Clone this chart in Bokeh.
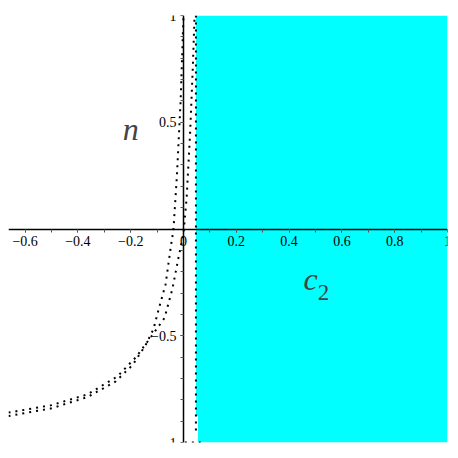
from bokeh.plotting import figure
from bokeh.models import FixedTicker, Label, Range1d
from bokeh.embed import file_html
from bokeh.resources import INLINE

# ---- data ----
c2_left = [-0.663, -0.5, -0.364, -0.258, -0.193, -0.144, -0.114, -0.095, -0.068, -0.05, -0.038, -0.025, -0.011, 0.0]
n_left = [-0.876, -0.84, -0.787, -0.715, -0.637, -0.545, -0.47, -0.38, -0.26, -0.1, 0.0, 0.25, 0.6, 1.0]

c2_right = [-0.663, -0.5, -0.364, -0.25, -0.18, -0.12, -0.072, -0.042, -0.02, 0.0, 0.012, 0.025, 0.035, 0.042]
n_right = [-0.86, -0.825, -0.775, -0.69, -0.6, -0.5, -0.417, -0.28, -0.14, -0.02, 0.15, 0.45, 0.75, 1.0]

region_c2 = [0.047, 1.0, 1.0, 0.055, 0.055, 0.047]
region_n = [1.0, 1.0, -1.0, -1.0, -0.876, -0.876]

edge_c2 = [0.047, 0.047]
edge_n = [1.0, -0.95]
bottom_c2 = [0.005, 0.065]
bottom_n = [-1.0, -1.0]

x_ticks = [-0.6, -0.4, -0.2, 0, 0.2, 0.4, 0.6, 0.8, 1]
x_minor = [-0.6, -0.5, -0.4, -0.3, -0.2, -0.1, 0, 0.1, 0.2, 0.3, 0.4, 0.5, 0.6, 0.7, 0.8, 0.9, 1.0]
y_ticks = [-1, -0.5, 0.5, 1]
y_minor = [-1, -0.9, -0.8, -0.7, -0.6, -0.5, -0.4, -0.3, -0.2, -0.1, 0.1, 0.2, 0.3, 0.4, 0.5, 0.6, 0.7, 0.8, 0.9, 1.0]

SERIF = "Liberation Serif"

p = figure(width=458, height=458, x_range=Range1d(-0.663, 1.0), y_range=Range1d(-1, 1),
           output_backend="svg", toolbar_location=None,
           min_border_left=8, min_border_right=11, min_border_top=15, min_border_bottom=16)
p.outline_line_color = None
p.grid.visible = False

p.patch(region_c2, region_n, fill_color="#00FFFF", line_color=None)

dots = dict(line_color="black", line_width=2, line_dash="2 5")
p.line(c2_left, n_left, **dots)
p.line(c2_right, n_right, **dots)
p.line(edge_c2, edge_n, **dots)
p.line(bottom_c2, bottom_n, **dots)

for ax in (p.xaxis[0], p.yaxis[0]):
    ax.fixed_location = 0
    ax.axis_line_color = "black"
    ax.axis_line_width = 1.5
    ax.major_tick_in = 0
    ax.major_tick_out = 3
    ax.minor_tick_in = 0
    ax.minor_tick_out = 3
    ax.major_tick_line_color = "#555555"
    ax.minor_tick_line_color = "#555555"
    ax.major_label_text_font = SERIF
    ax.major_label_text_font_size = "14px"
    ax.major_label_text_color = "black"
    ax.major_label_standoff = 4

p.xaxis[0].ticker = FixedTicker(ticks=x_ticks, minor_ticks=x_minor)
p.yaxis[0].ticker = FixedTicker(ticks=y_ticks, minor_ticks=y_minor)

p.add_layout(Label(x=-0.2, y=0.47, text="n", text_font=SERIF, text_font_style="italic",
                   text_font_size="32px", text_align="center", text_baseline="alphabetic"))
p.add_layout(Label(x=0.481, y=-0.232, text="c", text_font=SERIF, text_font_style="italic",
                   text_font_size="32px", text_align="center", text_baseline="alphabetic"))
p.add_layout(Label(x=0.53, y=-0.297, text="2", text_font=SERIF,
                   text_font_size="23px", text_align="center", text_baseline="alphabetic"))

open("out.html", "w").write(file_html(p, INLINE))
